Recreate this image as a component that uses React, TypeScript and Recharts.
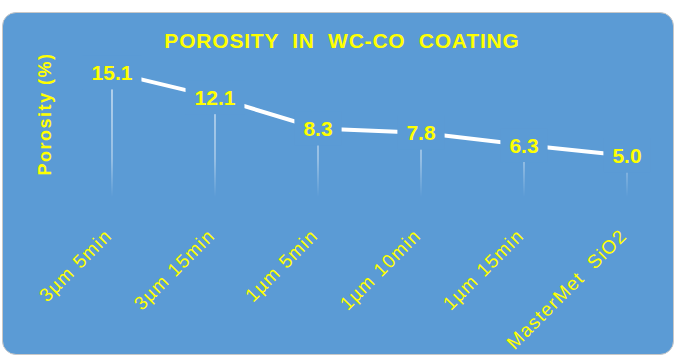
import React from "react";
import { LineChart, Line, XAxis, YAxis, LabelList, ReferenceLine } from "recharts";

const categories = ["3µm 5min", "3µm 15min", "1µm 5min", "1µm 10min", "1µm 15min", "MasterMet  SiO2"];
const porosity = [15.1, 12.1, 8.3, 7.8, 6.3, 5.0];

const chartData = categories.map((name, i) => ({ name, porosity: porosity[i] }));

const BLUE = "#5B9BD5";
const YELLOW = "#FFFF00";
const FONT = "'Liberation Sans', Arial, sans-serif";

const AxisTick = (props: any) => {
  const { x, y, payload } = props;
  return (
    <g transform={`translate(${x + 1},${y + 32})`}>
      <text
        transform="rotate(-45)"
        textAnchor="end"
        fill={YELLOW}
        fontSize={19}
        letterSpacing={1.2}
        fontFamily={FONT}
        style={{ whiteSpace: "pre" }}
      >
        {payload.value}
      </text>
    </g>
  );
};

const ValueLabel = (props: any) => {
  const { x, y, value } = props;
  const txt = Number(value).toFixed(1);
  const w = (txt.length - 1) * 11.7 + 5.8 + 18;
  return (
    <g>
      <rect x={x - w / 2} y={y - 17} width={w} height={34} fill={BLUE} />
      <text x={x} y={y} dy={7.5} textAnchor="middle" fill={YELLOW} fontSize={21} fontWeight="bold" fontFamily={FONT}>
        {txt}
      </text>
    </g>
  );
};

export default function App() {
  return (
    <div style={{ position: "relative", width: 675, height: 357, background: "#fff" }}>
      <style>{`body{margin:0}`}</style>
      <div
        style={{
          position: "absolute",
          left: 2,
          top: 12,
          width: 670,
          height: 341,
          background: BLUE,
          borderRadius: 14,
          border: "1px solid #c8c8c8",
        }}
      />
      <svg width={0} height={0} style={{ position: "absolute" }}>
        <defs>
          <linearGradient id="dropFade" gradientUnits="userSpaceOnUse" x1="0" y1="70" x2="0" y2="197">
            <stop offset="0%" stopColor="#ffffff" stopOpacity={0.95} />
            <stop offset="70%" stopColor="#ffffff" stopOpacity={0.6} />
            <stop offset="100%" stopColor="#ffffff" stopOpacity={0} />
          </linearGradient>
        </defs>
      </svg>
      <div style={{ position: "absolute", left: 0, top: 0 }}>
        <LineChart width={675} height={357} data={chartData} margin={{ top: 65, right: 48, bottom: 0, left: 112 }}>
          <XAxis dataKey="name" axisLine={false} tickLine={false} interval={0} height={160} tick={<AxisTick />} />
          <YAxis hide domain={[0, 16]} />
          {chartData.map((d) => (
            <ReferenceLine
              key={d.name}
              segment={[
                { x: d.name, y: 0 },
                { x: d.name, y: d.porosity },
              ]}
              stroke="url(#dropFade)"
              strokeWidth={1.2}
            />
          ))}
          <Line dataKey="porosity" stroke="#fff" strokeWidth={4} dot={false} isAnimationActive={false}>
            <LabelList dataKey="porosity" content={<ValueLabel />} />
          </Line>
        </LineChart>
      </div>
      <svg width={675} height={357} style={{ position: "absolute", left: 0, top: 0, pointerEvents: "none" }}>
        <text
          x={342}
          y={48}
          textAnchor="middle"
          fill={YELLOW}
          fontSize={21}
          fontWeight="bold"
          letterSpacing={0.8}
          fontFamily={FONT}
          style={{ whiteSpace: "pre" }}
        >
          {"POROSITY  IN  WC-CO  COATING"}
        </text>
        <text
          transform="translate(51,114) rotate(-90)"
          textAnchor="middle"
          fill={YELLOW}
          fontSize={18}
          fontWeight="bold"
          letterSpacing={1.5}
          fontFamily={FONT}
        >
          Porosity (%)
        </text>
      </svg>
    </div>
  );
}
